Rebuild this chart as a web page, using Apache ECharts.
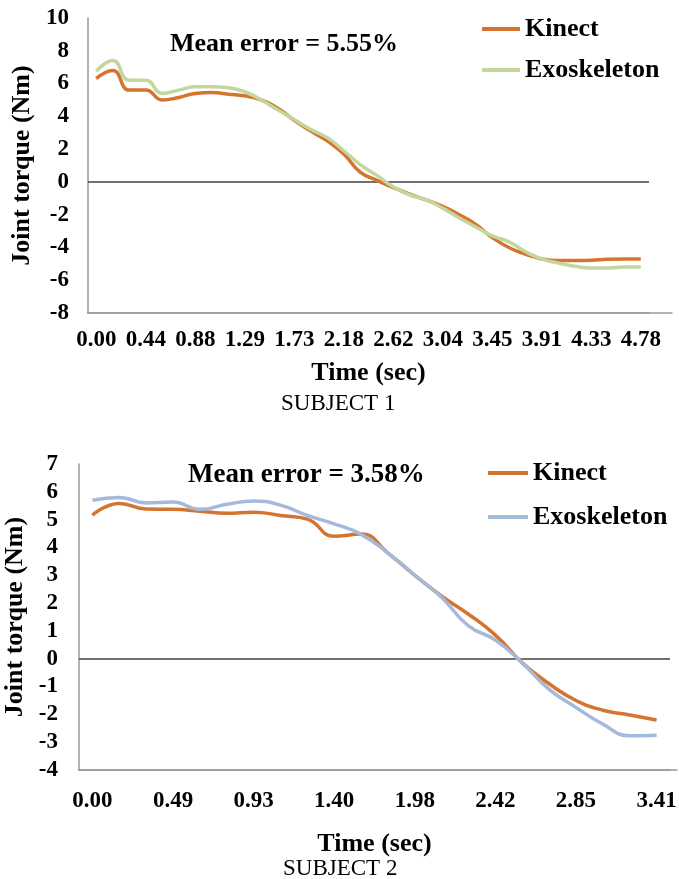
<!DOCTYPE html>
<html>
<head>
<meta charset="utf-8">
<script src="https://cdn.jsdelivr.net/npm/echarts@6/dist/echarts.min.js"></script>
<style>
html,body{margin:0;padding:0;background:#fff;}
#chart{width:679px;height:879px;}
</style>
</head>
<body>
<div id="chart"></div>
<script>
// ---- Subject 1 data ----
const subj1Times = ['0.00','0.15','0.29','0.44','0.59','0.73','0.88','1.01','1.15','1.29','1.44','1.58','1.73','1.88','2.03','2.18','2.33','2.47','2.62','2.76','2.90','3.04','3.18','3.31','3.45','3.60','3.76','3.91','4.05','4.19','4.33','4.48','4.63','4.78'];
const subj1Kinect = [6.3,6.8,5.6,5.6,5.0,5.15,5.4,5.45,5.35,5.25,5.0,4.5,3.75,3.1,2.5,1.7,0.6,0.1,-0.35,-0.75,-1.1,-1.5,-2.0,-2.6,-3.4,-4.0,-4.4,-4.7,-4.8,-4.8,-4.78,-4.72,-4.7,-4.7];
const subj1Exo = [6.75,7.4,6.2,6.2,5.4,5.6,5.8,5.8,5.75,5.5,5.0,4.4,3.8,3.2,2.7,1.9,1.05,0.4,-0.3,-0.8,-1.1,-1.6,-2.2,-2.75,-3.3,-3.65,-4.25,-4.7,-4.95,-5.15,-5.25,-5.25,-5.2,-5.2];
const subj1YRange = [-8, 10, 2];

// ---- Subject 2 data ----
const subj2Times = ['0.00','0.16','0.33','0.49','0.64','0.78','0.93','1.09','1.24','1.40','1.59','1.79','1.98','2.13','2.27','2.42','2.56','2.71','2.85','3.04','3.22','3.41'];
const subj2Kinect = [5.16,5.58,5.38,5.37,5.3,5.23,5.27,5.15,5.02,4.4,4.48,3.8,3.0,2.25,1.6,0.85,-0.15,-0.9,-1.5,-1.85,-2.02,-2.2];
const subj2Exo = [5.7,5.8,5.6,5.63,5.37,5.55,5.67,5.52,5.15,4.85,4.47,3.8,3.0,2.2,1.18,0.67,-0.15,-1.1,-1.75,-2.35,-2.77,-2.75];
const subj2YRange = [-4, 7, 1];

const FONT = "'Liberation Serif','Times New Roman',serif";
const ORANGE = '#D4742F';
const GREEN = '#C3D69B';
const BLUE = '#A5B9DC';
const AXIS_GRAY = '#9a9a9a';

const chart = echarts.init(document.getElementById('chart'));

function catAxis(gridIndex, data, labelMargin, nameGap) {
  return {
    type: 'category', gridIndex: gridIndex, data: data,
    axisLine: {onZero: false, lineStyle: {color: AXIS_GRAY, width: 1.5}},
    axisTick: {show: false},
    axisLabel: {interval: 2, margin: labelMargin, color: '#000', fontFamily: FONT, fontWeight: 'bold', fontSize: 23},
    name: 'Time (sec)', nameLocation: 'middle', nameGap: nameGap,
    nameTextStyle: {color: '#000', fontFamily: FONT, fontWeight: 'bold', fontSize: 26}
  };
}
function valAxis(gridIndex, range, labelMargin, nameGap) {
  return {
    type: 'value', gridIndex: gridIndex, min: range[0], max: range[1], interval: range[2],
    axisLine: {show: true, lineStyle: {color: AXIS_GRAY, width: 1.5}},
    axisTick: {show: false},
    splitLine: {show: false},
    axisLabel: {margin: labelMargin, color: '#000', fontFamily: FONT, fontWeight: 'bold', fontSize: 23},
    name: 'Joint torque (Nm)', nameLocation: 'middle', nameGap: nameGap, nameRotate: 90,
    nameTextStyle: {color: '#000', fontFamily: FONT, fontWeight: 'bold', fontSize: 26}
  };
}
function extX(gridIndex) {
  return {type: 'value', gridIndex: gridIndex, min: 0, max: 1,
    axisLine: {show: true, lineStyle: {color: AXIS_GRAY, width: 1.5}},
    axisTick: {show: false}, axisLabel: {show: false}, splitLine: {show: false}};
}
function extY(gridIndex) {
  return {type: 'value', gridIndex: gridIndex, min: 0, max: 1, show: false};
}
function lineSeries(name, data, color, xi, yi, zero) {
  const s = {
    type: 'line', name: name, data: data, xAxisIndex: xi, yAxisIndex: yi,
    smooth: 0.5, symbol: 'none', z: 3,
    lineStyle: {color: color, width: 3.5}, itemStyle: {color: color}
  };
  if (zero) {
    s.markLine = {silent: true, symbol: 'none', label: {show: false}, z: 1,
      lineStyle: {color: '#404040', width: 1.5, type: 'solid'},
      data: [{yAxis: 0}]};
  }
  return s;
}
const legendText = {color: '#000', fontFamily: FONT, fontWeight: 'bold', fontSize: 26, lineHeight: 26};
const titleStyle = (size, weight) => ({color: '#000', fontFamily: FONT, fontWeight: weight, fontSize: size});

chart.setOption({
  animation: false,
  backgroundColor: '#fff',
  grid: [
    {left: 88, right: 30, top: 18, height: 295, outerBoundsMode: 'none', containLabel: false},
    {left: 79, right: 9, top: 464, height: 306, outerBoundsMode: 'none', containLabel: false},
    {left: 88, right: 7, top: 18, height: 295, outerBoundsMode: 'none', containLabel: false},
    {left: 79, right: 2, top: 464, height: 306, outerBoundsMode: 'none', containLabel: false}
  ],
  xAxis: [catAxis(0, subj1Times, 16, 47), catAxis(1, subj2Times, 20, 61), extX(2), extX(3)],
  yAxis: [valAxis(0, subj1YRange, 19, 49), valAxis(1, subj2YRange, 21, 49), extY(2), extY(3)],
  title: [
    {text: 'Mean error = 5.55%', left: 170, top: 31, padding: 0, textStyle: titleStyle(26, 'bold')},
    {text: 'Mean error = 3.58%', left: 188, top: 462, padding: 0, textStyle: titleStyle(27, 'bold')},
    {text: 'SUBJECT 1', left: 281, top: 392, padding: 0, textStyle: titleStyle(23, 'normal')},
    {text: 'SUBJECT 2', left: 283, top: 857, padding: 0, textStyle: titleStyle(23, 'normal')}
  ],
  legend: [
    {orient: 'vertical', left: 482, top: 16, padding: 0, itemWidth: 38, itemHeight: 4, itemGap: 15, textStyle: legendText,
      selectedMode: false,
      data: [{name: 'Kinect', icon: 'rect', itemStyle: {color: ORANGE}},
             {name: 'Exoskeleton', icon: 'rect', itemStyle: {color: GREEN}}]},
    {orient: 'vertical', left: 488, top: 460, padding: 0, itemWidth: 40, itemHeight: 4, itemGap: 18, textStyle: legendText,
      selectedMode: false,
      data: [{name: 'Kinect', icon: 'rect', itemStyle: {color: ORANGE}},
             {name: 'Exoskeleton', icon: 'rect', itemStyle: {color: BLUE}}]}
  ],
  series: [
    lineSeries('Kinect', subj1Kinect, ORANGE, 0, 0, true),
    lineSeries('Exoskeleton', subj1Exo, GREEN, 0, 0, false),
    lineSeries('Kinect', subj2Kinect, ORANGE, 1, 1, true),
    lineSeries('Exoskeleton', subj2Exo, BLUE, 1, 1, false)
  ]
});
</script>
</body>
</html>
